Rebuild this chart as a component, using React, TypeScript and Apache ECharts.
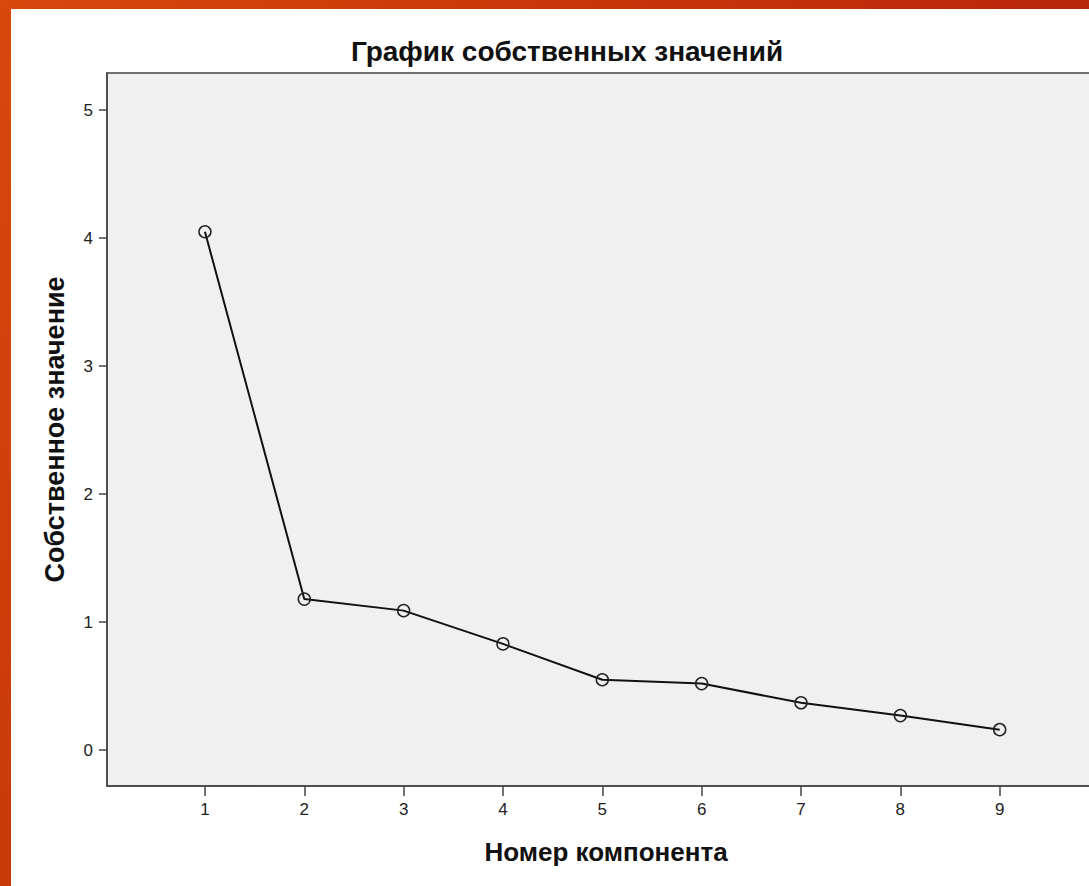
import React, { useEffect, useRef } from "react";
import * as echarts from "echarts";

const components = [1, 2, 3, 4, 5, 6, 7, 8, 9];
const eigenvalues = [4.05, 1.18, 1.09, 0.83, 0.55, 0.52, 0.37, 0.27, 0.16];
const yTicks = [0, 1, 2, 3, 4, 5];
const xTicks = [1, 2, 3, 4, 5, 6, 7, 8, 9];

const FONT = "'Liberation Sans', Arial, sans-serif";

export default function App() {
  const ref = useRef<HTMLDivElement>(null);
  useEffect(() => {
    if (!ref.current) return;
    const chart = echarts.init(ref.current, null, { renderer: "svg" });
    chart.setOption({
      animation: false,
      backgroundColor: "#ffffff",
      title: {
        text: "График собственных значений",
        left: 562,
        top: 32,
        textAlign: "center",
        textStyle: { fontFamily: FONT, fontWeight: "bold", fontSize: 28, color: "#111" },
      },
      grid: {
        left: 107,
        right: 0,
        top: 73,
        bottom: 100,
        show: true,
        backgroundColor: "#f0f0f0",
        borderColor: "#444",
        borderWidth: 1.5,
      },
      xAxis: {
        type: "value",
        min: 0.014,
        max: 10.06,
        name: "Номер компонента",
        nameLocation: "middle",
        nameGap: 53,
        nameTextStyle: { fontFamily: FONT, fontWeight: "bold", fontSize: 26, color: "#111" },
        axisLine: { show: true, onZero: false, lineStyle: { color: "#444", width: 1.5 } },
        axisTick: { show: true, length: 10, customValues: xTicks, lineStyle: { color: "#444", width: 1.5 } },
        axisLabel: { customValues: xTicks, fontFamily: FONT, fontSize: 17, color: "#222", margin: 15 },
        splitLine: { show: false },
      },
      yAxis: {
        type: "value",
        min: -0.28,
        max: 5.29,
        name: "Собственное значение",
        nameLocation: "middle",
        nameRotate: 90,
        nameGap: 39,
        nameTextStyle: { fontFamily: FONT, fontWeight: "bold", fontSize: 27, color: "#111" },
        axisLine: { show: true, onZero: false, lineStyle: { color: "#444", width: 1.5 } },
        axisTick: { show: true, length: 8, customValues: yTicks, lineStyle: { color: "#444", width: 1.5 } },
        axisLabel: { customValues: yTicks, fontFamily: FONT, fontSize: 17, color: "#222", margin: 14 },
        splitLine: { show: false },
      },
      series: [
        {
          type: "line",
          data: components.map((c, i) => [c, eigenvalues[i]]),
          symbol: "circle",
          symbolSize: 12,
          lineStyle: { color: "#111", width: 2 },
          itemStyle: { color: "rgba(0,0,0,0)", borderColor: "#222", borderWidth: 1.5 },
          z: 3,
        },
      ],
      graphic: [
        {
          type: "rect",
          shape: { x: 0, y: 0, width: 11, height: 886 },
          style: {
            fill: new echarts.graphic.LinearGradient(0, 0, 0, 1, [
              { offset: 0, color: "#d8470c" },
              { offset: 1, color: "#c8390a" },
            ]),
          },
          z: 10,
        },
        {
          type: "rect",
          shape: { x: 0, y: 0, width: 1105, height: 9 },
          style: {
            fill: new echarts.graphic.LinearGradient(0, 0, 1, 0, [
              { offset: 0, color: "#d8470c" },
              { offset: 0.6, color: "#c6330a" },
              { offset: 1, color: "#b8260a" },
            ]),
          },
          z: 10,
        },
      ],
    });
    return () => chart.dispose();
  }, []);
  return (
    <div
      ref={ref}
      style={{ position: "fixed", left: 0, top: 0, width: 1105, height: 886 }}
    />
  );
}
